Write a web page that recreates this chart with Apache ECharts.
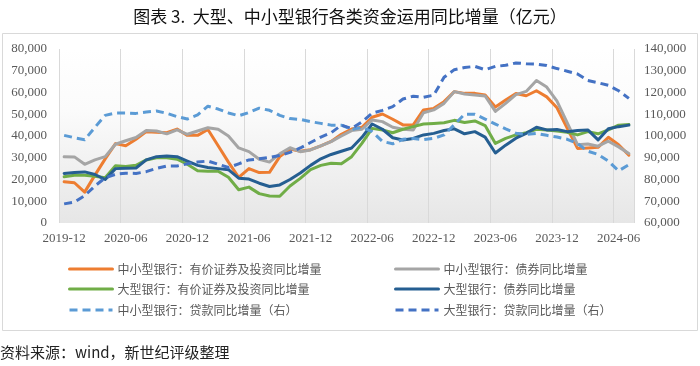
<!DOCTYPE html>
<html>
<head>
<meta charset="utf-8">
<script src="https://cdn.jsdelivr.net/npm/echarts@6/dist/echarts.min.js"></script>
<style>
html,body{margin:0;padding:0;background:#fff;}
#c{width:700px;height:366px;}
</style>
</head>
<body>
<div id="c"></div>
<script>
const categories = [
'2019-12','2020-01','2020-02','2020-03','2020-04','2020-05','2020-06','2020-07','2020-08','2020-09','2020-10','2020-11',
'2020-12','2021-01','2021-02','2021-03','2021-04','2021-05','2021-06','2021-07','2021-08','2021-09','2021-10','2021-11',
'2021-12','2022-01','2022-02','2022-03','2022-04','2022-05','2022-06','2022-07','2022-08','2022-09','2022-10','2022-11',
'2022-12','2023-01','2023-02','2023-03','2023-04','2023-05','2023-06','2023-07','2023-08','2023-09','2023-10','2023-11',
'2023-12','2024-01','2024-02','2024-03','2024-04','2024-05','2024-06','2024-07'];

const seriesNames = [
'中小型银行：有价证券及投资同比增量','中小型银行：债券同比增量',
'大型银行：有价证券及投资同比增量','大型银行：债券同比增量',
'中小型银行：贷款同比增量（右）','大型银行：贷款同比增量（右）'];

const smallSecurities = [19000,18500,14200,22000,29500,36500,35500,38500,42000,41700,41500,43200,
40300,40300,43000,35500,28000,21000,25000,23200,23300,30500,34000,33000,
33700,35500,37500,40800,43200,44000,48600,50100,47700,45100,45100,52000,
52700,55800,60400,59600,59600,58900,53300,56500,59500,58500,60800,58000,
53000,43500,34300,34500,34800,39400,36000,31200];

const smallBonds = [30500,30400,27000,29000,30500,36200,37800,39300,42500,42300,41000,42800,
40800,42300,43800,43100,40000,34500,32800,29300,28000,31800,34600,32800,
33600,35500,37400,40000,42500,43100,47400,46600,44000,43100,42800,50700,
52000,55000,60400,59300,58900,58400,51300,55000,59000,60500,65500,62500,
56000,46000,36000,36300,35300,37600,35000,32000];

const largeSecurities = [21300,22000,22000,21500,20800,26300,26000,26500,29000,30000,30000,29300,
27000,24000,23800,23800,21000,15300,16500,13500,12400,12300,17000,20500,
24500,26500,27500,27200,30500,36600,43500,42800,41500,43100,44300,45500,
45800,46100,47200,46200,46900,44800,36600,38900,40500,41500,43100,42800,
42300,41700,40500,42000,41000,42800,45000,45300];

const largeBonds = [22800,23200,23500,22300,20000,25000,25200,25300,29000,30500,30800,30500,
28500,26500,25500,25000,24500,20600,20200,18300,16800,17500,20000,23000,
26500,29500,31500,33000,34500,39400,45500,43100,39200,38200,38900,40500,
41200,42500,43300,41000,42000,39500,32200,35800,39000,41200,44000,42800,
43000,42000,42500,42800,38200,43300,44300,45000];

const smallLoans = [100300,99200,98300,104000,109500,110600,110600,110400,111000,111500,110400,108900,
107800,109700,113700,112400,110600,109300,110800,112800,111800,109500,108000,107600,
106600,105800,105000,105000,103000,104000,102000,97500,96400,98500,98900,98300,
98900,100500,105200,110000,110000,107800,105500,103300,101300,100700,101200,100300,
99500,98500,96500,93000,91500,88500,84000,86800];

const largeLoans = [68800,69600,72600,77000,80800,82400,82900,82800,83600,85100,86200,86200,
87200,88000,88500,87000,85500,87200,89000,89500,90200,91000,92500,94500,
97000,99500,101500,105000,103500,106500,110500,111800,113500,117000,118300,117800,
118800,127000,130500,131500,132000,130500,132000,132500,133600,133200,133000,132400,
131000,129800,128500,125500,124500,123300,120800,117300];

const leftTicks = {min: 0, max: 80000, step: 10000};
const rightTicks = {min: 60000, max: 140000, step: 10000};

const colors = ['#ED7D31','#A5A5A5','#70AD47','#255E91','#5B9BD5','#4472C4'];
const dataSets = [smallSecurities, smallBonds, largeSecurities, largeBonds, smallLoans, largeLoans];
const axisIdx = [0,0,0,0,1,1];
const dashed = [false,false,false,false,true,true];

const chart = echarts.init(document.getElementById('c'), null, {renderer:'canvas'});
const fmt = v => v.toLocaleString('en-US');
const serif = '"Liberation Serif","Times New Roman",serif';
const cjk = '"Noto Sans CJK SC","Noto Sans",sans-serif';

const legendPos = [[68,271],[394,271],[68,291],[394,291],[68,312],[394,312]];

const option = {
  backgroundColor: '#ffffff',
  animation: false,
  title: {
    text: '图表 3.  大型、中小型银行各类资金运用同比增量（亿元）',
    left: 'center', top: 3,
    textStyle: {fontFamily: cjk, fontSize: 17, fontWeight: 'normal', color: '#111'}
  },
  graphic: [
    {type:'rect', z: -1, shape:{x:2.5,y:33.5,width:695,height:297}, style:{fill:'#ffffff', stroke:'#d9d9d9', lineWidth:1}},
    {type:'text', left: 0, top: 345, style:{text:'资料来源：wind，新世纪评级整理', font: '15px ' + cjk, fill:'#222'}}
  ],
  legend: seriesNames.map((n,i)=>({
    data:[n], left: legendPos[i][0], top: legendPos[i][1]-8, itemWidth: 43, itemHeight: 14, itemGap: 4,
    itemStyle: {opacity: 0, color: 'rgba(0,0,0,0)', borderColor: 'rgba(0,0,0,0)', borderWidth: 0},
    lineStyle: {width: 3},
    textStyle:{fontFamily: cjk, fontSize: 12, color:'#595959'}, padding: 0
  })),
  grid: {
    left: 59, top: 49, width: 575, height: 174, show: true, borderWidth: 0,
    backgroundColor: new echarts.graphic.LinearGradient(0,0,0,1,[
      {offset:0, color:'#ffffff'},{offset:0.35, color:'#fbfbfb'},{offset:1, color:'#e6e6e6'}])
  },
  xAxis: {
    type: 'category', data: categories, boundaryGap: true,
    axisLine: {show:false}, axisTick: {show:false},
    axisLabel: {interval: 5, fontFamily: serif, fontSize: 13, color:'#595959', margin: 9},
    splitLine: {show:true, interval: 5, lineStyle:{color:'#d9d9d9', width:1}}
  },
  yAxis: [
    {type:'value', min: leftTicks.min, max: leftTicks.max, interval: leftTicks.step,
     axisLine:{show:false}, axisTick:{show:false}, splitLine:{show:false},
     axisLabel:{formatter: fmt, fontFamily: serif, fontSize: 13, color:'#595959', margin: 12}},
    {type:'value', min: rightTicks.min, max: rightTicks.max, interval: rightTicks.step, position:'right',
     axisLine:{show:false}, axisTick:{show:false}, splitLine:{show:false},
     axisLabel:{formatter: fmt, fontFamily: serif, fontSize: 13, color:'#595959', margin: 10}}
  ],
  series: seriesNames.map((n,i)=>({
    name: n, type:'line', yAxisIndex: axisIdx[i], data: dataSets[i],
    symbol:'none', smooth:false, color: colors[i],
    lineStyle:{color: colors[i], width: 3, type: dashed[i] ? [8,5] : 'solid', cap: dashed[i] ? 'butt' : 'round', join:'round'}
  }))
};
chart.setOption(option);
</script>
</body>
</html>
